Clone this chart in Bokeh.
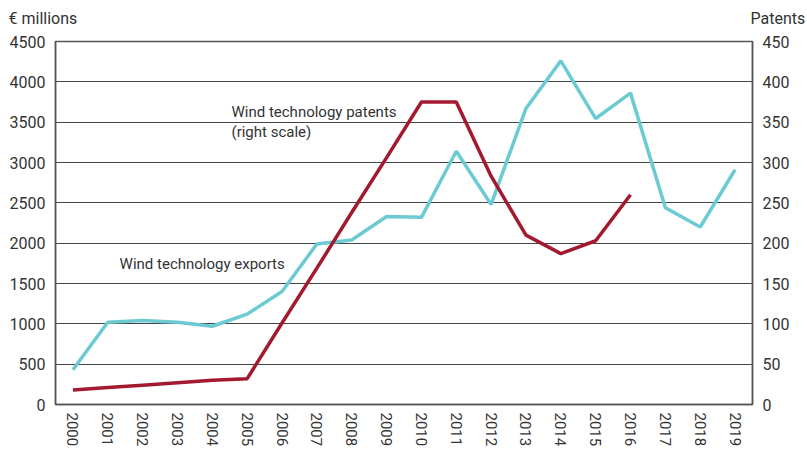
from bokeh.plotting import figure
from bokeh.models import Range1d, LinearAxis, FixedTicker, Label, FactorRange
from bokeh.embed import file_html
from bokeh.resources import INLINE

years = [str(y) for y in range(2000, 2020)]
exports = [430, 1020, 1040, 1020, 970, 1120, 1400, 1990, 2040, 2330,
           2320, 3140, 2480, 3670, 4260, 3545, 3860, 2440, 2200, 2910]
patent_years = [str(y) for y in range(2000, 2017)]
patents = [18, 21, 24, 27, 30, 32, 101, 169, 238, 306,
           375, 375, 283, 210, 187, 203, 260]
left_ticks = list(range(0, 4501, 500))
right_ticks = list(range(0, 451, 50))

FONT = "Roboto"
TXT = "#333333"
GRID = "#444444"

p = figure(width=807, height=449, x_range=FactorRange(*years),
           y_range=Range1d(0, 4500), output_backend="svg", toolbar_location=None,
           min_border_left=55, min_border_right=55, min_border_top=41, min_border_bottom=45)
p.extra_y_ranges = {"pat": Range1d(0, 450)}

p.outline_line_color = "#555555"
p.outline_line_width = 1.5
p.xgrid.grid_line_color = None
p.ygrid.grid_line_color = GRID
p.ygrid.grid_line_width = 1
p.ygrid.ticker = FixedTicker(ticks=left_ticks)

p.yaxis.ticker = FixedTicker(ticks=left_ticks)
for ax in [p.yaxis[0], p.xaxis[0]]:
    ax.major_tick_line_color = None
    ax.major_tick_out = 0
    ax.minor_tick_line_color = None
    ax.minor_tick_out = 0
    ax.major_label_text_font = FONT
    ax.major_label_text_color = TXT
    ax.axis_line_color = "#555555"
    ax.axis_line_width = 1.5
p.yaxis.major_label_text_font_size = "16px"
p.yaxis.major_label_standoff = 10
p.xaxis.major_label_text_font_size = "15px"
p.xaxis.major_label_orientation = "vertical"
p.xaxis.major_label_standoff = 8

rax = LinearAxis(y_range_name="pat", ticker=FixedTicker(ticks=right_ticks))
rax.major_tick_line_color = None
rax.major_tick_out = 0
rax.minor_tick_line_color = None
rax.minor_tick_out = 0
rax.major_label_text_font = FONT
rax.major_label_text_font_size = "16px"
rax.major_label_text_color = TXT
rax.axis_line_color = "#555555"
rax.axis_line_width = 1.5
rax.major_label_standoff = 10
p.add_layout(rax, "right")

p.line(years, exports, line_color="#6ccbd2", line_width=3.5)
p.line(patent_years, patents, line_color="#a3192f", line_width=3.5, y_range_name="pat")

def lab(x, y, t, size="15px"):
    p.add_layout(Label(x=x, y=y, text=t, text_font=FONT, text_font_size=size,
                       text_color=TXT, text_baseline="alphabetic", text_align="left"))

lab(5.05, 3632, "Wind technology patents")
lab(5.05, 3372, "(right scale)")
lab(1.84, 1736, "Wind technology exports")

# axis unit captions in the top side panel (not clipped to the frame)
p.add_layout(Label(x=-47, y=23, x_units="screen", y_units="screen", text="€ millions",
                   text_font=FONT, text_font_size="16px", text_color=TXT,
                   text_baseline="alphabetic", text_align="left"), "above")
p.add_layout(Label(x=695, y=4, x_units="screen", y_units="screen", text="Patents",
                   text_font=FONT, text_font_size="16px", text_color=TXT,
                   text_baseline="alphabetic", text_align="left"), "above")

open("out.html", "w").write(file_html(p, INLINE))
